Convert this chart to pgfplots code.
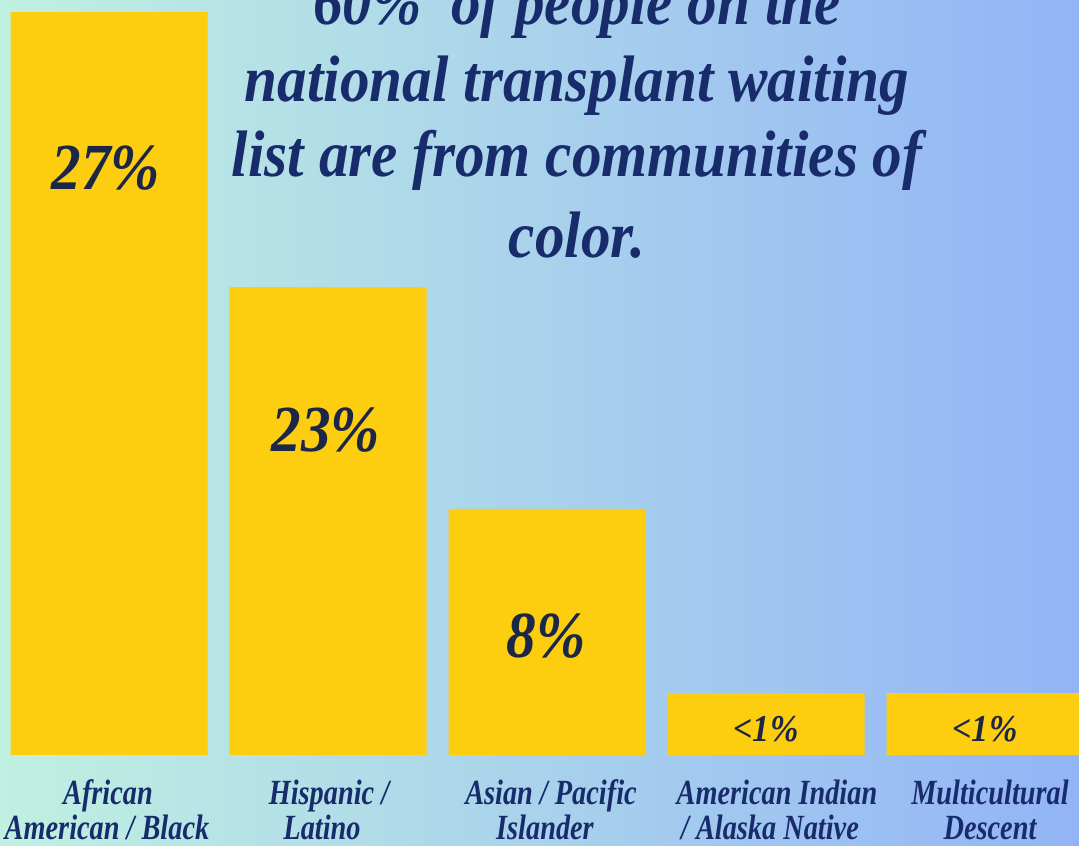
\documentclass[border=0pt]{standalone}
\usepackage{fontspec}
\setmainfont{Liberation Serif}
\newfontfamily\cf[FakeStretch=0.8]{Liberation Serif}
\newfontfamily\tf[FakeStretch=0.9]{Liberation Serif}
\newfontfamily\nf[FakeStretch=0.9]{Liberation Serif}
\usepackage{pgfplots}
\pgfplotsset{compat=1.18}
\definecolor{barY}{RGB}{253,205,16}
\definecolor{navy}{RGB}{24,44,108}
\definecolor{valc}{RGB}{28,38,70}
\definecolor{bgL}{RGB}{192,240,225}
\definecolor{bgM}{RGB}{171,217,233}
\definecolor{bgR}{RGB}{146,180,246}
\begin{document}
\begin{tikzpicture}
\useasboundingbox (0,0) rectangle (426.79pt,334.627pt);
\clip (0,0) rectangle (426.79pt,334.627pt);
\shade[left color=bgL, middle color=bgM, right color=bgR] (0,0) rectangle (426.79pt,334.627pt);
\begin{axis}[at={(0pt,35.994pt)}, anchor=south west, scale only axis,
  width=426.79pt, height=298.63pt,
  xmin=-0.498, xmax=4.429, ymin=0, ymax=27.436,
  axis line style={draw=none}, xtick=\empty, ytick=\empty,
  ybar, bar width=0.9, clip=true]
\addplot[fill=barY, draw=none] coordinates {(0,27) (1,17.0) (2,8.94) (3,2.25) (4,2.25)};
\end{axis}
\begin{scope}[x=0.39554pt,y=-0.39554pt,yshift=334.627pt]
% title
\begin{scope}[every node/.style={anchor=base, text=navy, font=\tf\bfseries\itshape\fontsize{26}{30}\selectfont}]
\node at (577,25) {60\%\ \ of people on the};
\node at (577,102) {national transplant waiting};
\node at (577,177) {list are from communities of};
\node at (577,258) {color.};
\end{scope}
% values
\begin{scope}[every node/.style={anchor=base, text=valc}]
\node[font=\nf\bfseries\itshape\fontsize{26}{30}\selectfont] at (106,190) {27\%};
\node[font=\nf\bfseries\itshape\fontsize{26}{30}\selectfont] at (326,452) {23\%};
\node[font=\nf\bfseries\itshape\fontsize{26}{30}\selectfont] at (546,658) {8\%};
\node[font=\nf\bfseries\itshape\fontsize{15}{18}\selectfont] at (766,742) {<1\%};
\node[font=\nf\bfseries\itshape\fontsize{15}{18}\selectfont] at (985,742) {<1\%};
\end{scope}
% categories
\begin{scope}[every node/.style={anchor=base, text=navy, font=\cf\bfseries\itshape\fontsize{14}{17}\selectfont}]
\node at (108,805) {African};
\node at (107,840) {American / Black};
\node at (329,805) {Hispanic /};
\node at (322,840) {Latino};
\node at (551,805) {Asian / Pacific};
\node at (545,840) {Islander};
\node at (777,805) {American Indian};
\node at (770,840) {/ Alaska Native};
\node at (990,805) {Multicultural};
\node at (990,840) {Descent};
\end{scope}
\end{scope}
\end{tikzpicture}
\end{document}
